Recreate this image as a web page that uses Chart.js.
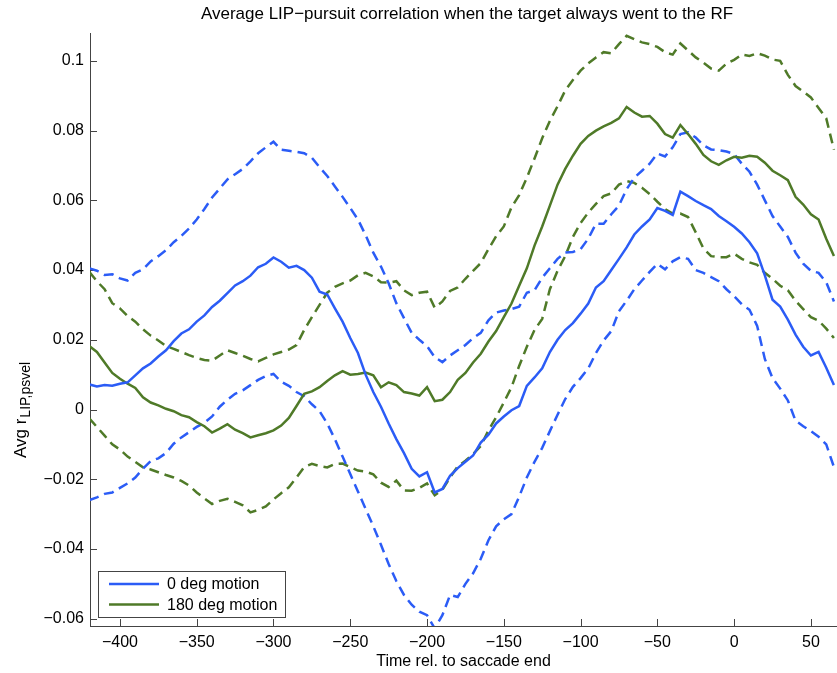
<!DOCTYPE html>
<html>
<head>
<meta charset="utf-8">
<script src="https://cdn.jsdelivr.net/npm/chart.js@4"></script>
<style>
  html, body { margin: 0; padding: 0; background: #fff; }
  #wrap { width: 837px; height: 673px; }
</style>
</head>
<body>
<div id="wrap"><canvas id="lipChart" width="837" height="673"></canvas></div>
<script>
const FONT = "'Liberation Sans', Arial, Helvetica, sans-serif";
const BLUE = "#2b5cf6";
const GREEN = "#4f7a28";
const AXIS = "#444";

// time relative to saccade end (ms), 5 ms bins
const time = [
  -420, -415, -410, -405, -400, -395, -390, -385, -380, -375,
  -370, -365, -360, -355, -350, -345, -340, -335, -330, -325,
  -320, -315, -310, -305, -300, -295, -290, -285, -280, -275,
  -270, -265, -260, -255, -250, -245, -240, -235, -230, -225,
  -220, -215, -210, -205, -200, -195, -190, -185, -180, -175,
  -170, -165, -160, -155, -150, -145, -140, -135, -130, -125,
  -120, -115, -110, -105, -100, -95, -90, -85, -80, -75,
  -70, -65, -60, -55, -50, -45, -40, -35, -30, -25,
  -20, -15, -10, -5, 0, 5, 10, 15, 20, 25,
  30, 35, 40, 45, 50, 55, 60, 65
];

// 0 deg motion: mean and +/- bounds
const blueMean = [
  0.0072, 0.0066, 0.0070, 0.0068, 0.0074, 0.0078, 0.0098, 0.0118, 0.0132, 0.0152,
  0.0170, 0.0196, 0.0218, 0.0230, 0.0252, 0.0270, 0.0294, 0.0312, 0.0334, 0.0356,
  0.0368, 0.0384, 0.0408, 0.0418, 0.0436, 0.0424, 0.0407, 0.0412, 0.0400, 0.0378,
  0.0338, 0.0330, 0.0290, 0.0252, 0.0205, 0.0162, 0.0100, 0.0050, 0.0008, -0.0040,
  -0.0085, -0.0125, -0.0170, -0.0192, -0.0180, -0.0238, -0.0228, -0.0190, -0.0168, -0.0150,
  -0.0132, -0.0095, -0.0072, -0.0040, -0.0020, -0.0002, 0.0010, 0.0068, 0.0092, 0.0118,
  0.0165, 0.0200, 0.0228, 0.0248, 0.0275, 0.0304, 0.0350, 0.0368, 0.0400, 0.0432,
  0.0465, 0.0502, 0.0525, 0.0545, 0.0578, 0.0570, 0.0558, 0.0625, 0.0612, 0.0598,
  0.0586, 0.0575, 0.0555, 0.0540, 0.0524, 0.0505, 0.0480, 0.0448, 0.0385, 0.0315,
  0.0295, 0.0258, 0.0215, 0.0180, 0.0155, 0.0165, 0.0120, 0.0070
];
const blueUpper = [
  0.0405, 0.0398, 0.0386, 0.0388, 0.0376, 0.0370, 0.0392, 0.0402, 0.0425, 0.0440,
  0.0457, 0.0480, 0.0498, 0.0519, 0.0545, 0.0575, 0.0608, 0.0634, 0.0660, 0.0675,
  0.0690, 0.0712, 0.0735, 0.0752, 0.0768, 0.0745, 0.0742, 0.0739, 0.0735, 0.0722,
  0.0695, 0.0670, 0.0640, 0.0610, 0.0578, 0.0545, 0.0500, 0.0450, 0.0410, 0.0362,
  0.0305, 0.0262, 0.0220, 0.0200, 0.0182, 0.0150, 0.0136, 0.0155, 0.0170, 0.0185,
  0.0205, 0.0220, 0.0256, 0.0278, 0.0284, 0.0288, 0.0295, 0.0335, 0.0342, 0.0378,
  0.0405, 0.0432, 0.0450, 0.0452, 0.0460, 0.0490, 0.0533, 0.0533, 0.0560, 0.0585,
  0.0632, 0.0665, 0.0685, 0.0705, 0.0734, 0.0726, 0.0752, 0.0790, 0.0795, 0.0780,
  0.0758, 0.0746, 0.0744, 0.0740, 0.0733, 0.0705, 0.0682, 0.0645, 0.0600, 0.0555,
  0.0525, 0.0495, 0.0450, 0.0418, 0.0398, 0.0392, 0.0365, 0.0310
];
const blueLower = [
  -0.0260, -0.0252, -0.0242, -0.0238, -0.0225, -0.0212, -0.0195, -0.0170, -0.0148, -0.0140,
  -0.0125, -0.0098, -0.0080, -0.0065, -0.0050, -0.0038, -0.0020, 0.0008, 0.0028, 0.0045,
  0.0055, 0.0070, 0.0085, 0.0096, 0.0102, 0.0080, 0.0068, 0.0050, 0.0038, 0.0015,
  -0.0005, -0.0040, -0.0085, -0.0135, -0.0185, -0.0235, -0.0285, -0.0335, -0.0388, -0.0443,
  -0.0492, -0.0532, -0.0560, -0.0580, -0.0590, -0.0628, -0.0590, -0.0532, -0.0538, -0.0500,
  -0.0470, -0.0428, -0.0375, -0.0335, -0.0315, -0.0300, -0.0250, -0.0195, -0.0150, -0.0110,
  -0.0062, -0.0015, 0.0030, 0.0065, 0.0090, 0.0118, 0.0162, 0.0198, 0.0225, 0.0282,
  0.0312, 0.0345, 0.0370, 0.0395, 0.0418, 0.0402, 0.0425, 0.0437, 0.0432, 0.0400,
  0.0392, 0.0380, 0.0368, 0.0345, 0.0325, 0.0302, 0.0286, 0.0240, 0.0145, 0.0090,
  0.0060, 0.0026, -0.0032, -0.0048, -0.0062, -0.0078, -0.0100, -0.0165
];

// 180 deg motion: mean and +/- bounds
const greenMean = [
  0.0182, 0.0165, 0.0135, 0.0105, 0.0088, 0.0074, 0.0062, 0.0035, 0.0020, 0.0012,
  0.0002, -0.0005, -0.0016, -0.0022, -0.0036, -0.0048, -0.0066, -0.0055, -0.0042, -0.0058,
  -0.0068, -0.0080, -0.0074, -0.0068, -0.0060, -0.0046, -0.0024, 0.0010, 0.0045, 0.0052,
  0.0064, 0.0082, 0.0098, 0.0110, 0.0100, 0.0102, 0.0106, 0.0098, 0.0064, 0.0078,
  0.0070, 0.0050, 0.0046, 0.0040, 0.0064, 0.0024, 0.0028, 0.0050, 0.0085, 0.0105,
  0.0135, 0.0160, 0.0195, 0.0225, 0.0265, 0.0304, 0.0355, 0.0405, 0.0470, 0.0525,
  0.0585, 0.0645, 0.0690, 0.0728, 0.0762, 0.0785, 0.0800, 0.0812, 0.0822, 0.0835,
  0.0868, 0.0852, 0.0840, 0.0842, 0.0820, 0.0790, 0.0780, 0.0816, 0.0790, 0.0762,
  0.0730, 0.0712, 0.0702, 0.0715, 0.0725, 0.0722, 0.0728, 0.0725, 0.0708, 0.0685,
  0.0672, 0.0658, 0.0610, 0.0588, 0.0560, 0.0545, 0.0490, 0.0440
];
const greenUpper = [
  0.0395, 0.0368, 0.0345, 0.0305, 0.0290, 0.0268, 0.0252, 0.0230, 0.0212, 0.0198,
  0.0182, 0.0174, 0.0165, 0.0156, 0.0148, 0.0142, 0.0140, 0.0155, 0.0170, 0.0162,
  0.0154, 0.0145, 0.0138, 0.0148, 0.0158, 0.0165, 0.0172, 0.0185, 0.0228, 0.0265,
  0.0300, 0.0335, 0.0352, 0.0362, 0.0370, 0.0385, 0.0392, 0.0382, 0.0365, 0.0364,
  0.0368, 0.0342, 0.0328, 0.0335, 0.0338, 0.0292, 0.0310, 0.0340, 0.0350, 0.0375,
  0.0398, 0.0420, 0.0460, 0.0497, 0.0525, 0.0580, 0.0615, 0.0665, 0.0720, 0.0778,
  0.0828, 0.0870, 0.0915, 0.0945, 0.0972, 0.0993, 0.1010, 0.1025, 0.1022, 0.1048,
  0.1072, 0.1062, 0.1053, 0.1048, 0.1040, 0.1025, 0.1018, 0.1050, 0.1030, 0.1010,
  0.0995, 0.0978, 0.0972, 0.0992, 0.1003, 0.1018, 0.1014, 0.1022, 0.1015, 0.1004,
  0.1000, 0.0960, 0.0928, 0.0912, 0.0895, 0.0865, 0.0835, 0.0745
];
const greenLower = [
  -0.0025, -0.0050, -0.0075, -0.0100, -0.0115, -0.0135, -0.0150, -0.0166, -0.0172, -0.0180,
  -0.0188, -0.0195, -0.0205, -0.0218, -0.0238, -0.0255, -0.0271, -0.0262, -0.0256, -0.0265,
  -0.0275, -0.0295, -0.0288, -0.0278, -0.0258, -0.0240, -0.0223, -0.0195, -0.0165, -0.0156,
  -0.0162, -0.0166, -0.0156, -0.0155, -0.0165, -0.0175, -0.0178, -0.0186, -0.0210, -0.0222,
  -0.0204, -0.0232, -0.0233, -0.0225, -0.0212, -0.0246, -0.0230, -0.0195, -0.0163, -0.0147,
  -0.0128, -0.0105, -0.0060, -0.0022, 0.0020, 0.0064, 0.0125, 0.0180, 0.0228, 0.0260,
  0.0345, 0.0398, 0.0440, 0.0495, 0.0535, 0.0565, 0.0590, 0.0612, 0.0620, 0.0645,
  0.0655, 0.0650, 0.0636, 0.0618, 0.0596, 0.0575, 0.0562, 0.0562, 0.0552, 0.0508,
  0.0462, 0.0440, 0.0437, 0.0437, 0.0447, 0.0432, 0.0422, 0.0415, 0.0392, 0.0375,
  0.0355, 0.0342, 0.0312, 0.0288, 0.0265, 0.0255, 0.0232, 0.0205
];

const xTicks = [-400, -350, -300, -250, -200, -150, -100, -50, 0, 50];
const yTicks = [-0.06, -0.04, -0.02, 0, 0.02, 0.04, 0.06, 0.08, 0.1];

const pts = ys => time.map((t, i) => ({ x: t, y: ys[i] }));
const withMinus = s => s.replace("-", "\u2212");

function series(label, ys, color, dashed) {
  return {
    label: label,
    data: pts(ys),
    borderColor: color,
    backgroundColor: color,
    borderWidth: 2.5,
    borderDash: dashed ? [10, 6] : [],
    pointRadius: 0,
    tension: 0,
    fill: false,
    dashed: dashed
  };
}

// title and y label (with subscript) drawn by hand
const labels = {
  id: "labels",
  afterDraw(chart) {
    const { ctx } = chart;
    ctx.save();
    ctx.fillStyle = "#000";
    ctx.font = "17px " + FONT;
    ctx.textAlign = "center";
    ctx.textBaseline = "middle";
    ctx.fillText("Average LIP\u2212pursuit correlation when the target always went to the RF", 467, 14);

    ctx.translate(26, 458);
    ctx.rotate(-Math.PI / 2);
    ctx.textAlign = "left";
    ctx.textBaseline = "alphabetic";
    ctx.font = "17px " + FONT;
    const main = "Avg r";
    ctx.fillText(main, 0, 0);
    const w = ctx.measureText(main).width;
    ctx.font = "14px " + FONT;
    ctx.fillText("LIP,psvel", w + 1, 4);
    ctx.restore();
  }
};

// inward tick marks on both axes
const innerTicks = {
  id: "innerTicks",
  beforeDatasetsDraw(chart) {
    const { ctx, chartArea: a, scales: { x, y } } = chart;
    ctx.save();
    ctx.strokeStyle = AXIS;
    ctx.lineWidth = 1;
    ctx.beginPath();
    xTicks.forEach(v => {
      const px = Math.round(x.getPixelForValue(v)) + 0.5;
      ctx.moveTo(px, a.bottom);
      ctx.lineTo(px, a.bottom - 7);
    });
    yTicks.forEach(v => {
      const py = Math.round(y.getPixelForValue(v)) + 0.5;
      ctx.moveTo(a.left, py);
      ctx.lineTo(a.left + 7, py);
    });
    ctx.stroke();
    ctx.restore();
  }
};

// boxed legend in the lower-left corner, solid series only
const boxLegend = {
  id: "boxLegend",
  afterDatasetsDraw(chart) {
    const { ctx, chartArea: a } = chart;
    const items = chart.data.datasets.filter(d => !d.dashed);
    const bx = a.left + 8, bw = 187, bh = 46, by = a.bottom - 9 - bh;
    ctx.save();
    ctx.fillStyle = "#fff";
    ctx.fillRect(bx, by, bw, bh);
    ctx.strokeStyle = AXIS;
    ctx.lineWidth = 1;
    ctx.strokeRect(bx + 0.5, by + 0.5, bw, bh);
    ctx.font = "16px " + FONT;
    ctx.textBaseline = "middle";
    ctx.textAlign = "left";
    items.forEach((d, i) => {
      const ly = by + 13 + i * 20.5;
      ctx.strokeStyle = d.borderColor;
      ctx.lineWidth = 2.5;
      ctx.beginPath();
      ctx.moveTo(bx + 11, ly);
      ctx.lineTo(bx + 61, ly);
      ctx.stroke();
      ctx.fillStyle = "#000";
      ctx.fillText(d.label, bx + 69, ly + 1);
    });
    ctx.restore();
  }
};

new Chart(document.getElementById("lipChart"), {
  type: "line",
  data: {
    datasets: [
      series("0 deg motion", blueMean, BLUE, false),
      series("180 deg motion", greenMean, GREEN, false),
      series("0 deg upper", blueUpper, BLUE, true),
      series("0 deg lower", blueLower, BLUE, true),
      series("180 deg upper", greenUpper, GREEN, true),
      series("180 deg lower", greenLower, GREEN, true)
    ]
  },
  options: {
    responsive: false,
    animation: false,
    devicePixelRatio: 1,
    layout: { padding: { top: 33, right: 0, left: 0, bottom: 0 } },
    plugins: { legend: { display: false }, tooltip: { enabled: false } },
    scales: {
      x: {
        type: "linear",
        min: -419.5,
        max: 67,
        afterFit: s => { s.height = 47; },
        afterBuildTicks: s => { s.ticks = xTicks.map(v => ({ value: v })); },
        grid: { display: false, drawTicks: false },
        border: { display: true, color: AXIS, width: 1 },
        ticks: {
          padding: 7,
          color: "#000",
          font: { family: FONT, size: 16 },
          maxRotation: 0,
          callback: v => withMinus(String(v))
        },
        title: {
          display: true,
          text: "Time rel. to saccade end",
          color: "#000",
          font: { family: FONT, size: 16 },
          padding: { top: 2, bottom: 2 }
        }
      },
      y: {
        type: "linear",
        min: -0.0621,
        max: 0.108,
        afterFit: s => { s.width = 90; },
        afterBuildTicks: s => { s.ticks = yTicks.map(v => ({ value: v })); },
        grid: { display: false, drawTicks: false },
        border: { display: true, color: AXIS, width: 1 },
        ticks: {
          padding: 6,
          color: "#000",
          font: { family: FONT, size: 16 },
          callback: v => withMinus(String(+v.toFixed(2)))
        }
      }
    }
  },
  plugins: [innerTicks, boxLegend, labels]
});
</script>
</body>
</html>
